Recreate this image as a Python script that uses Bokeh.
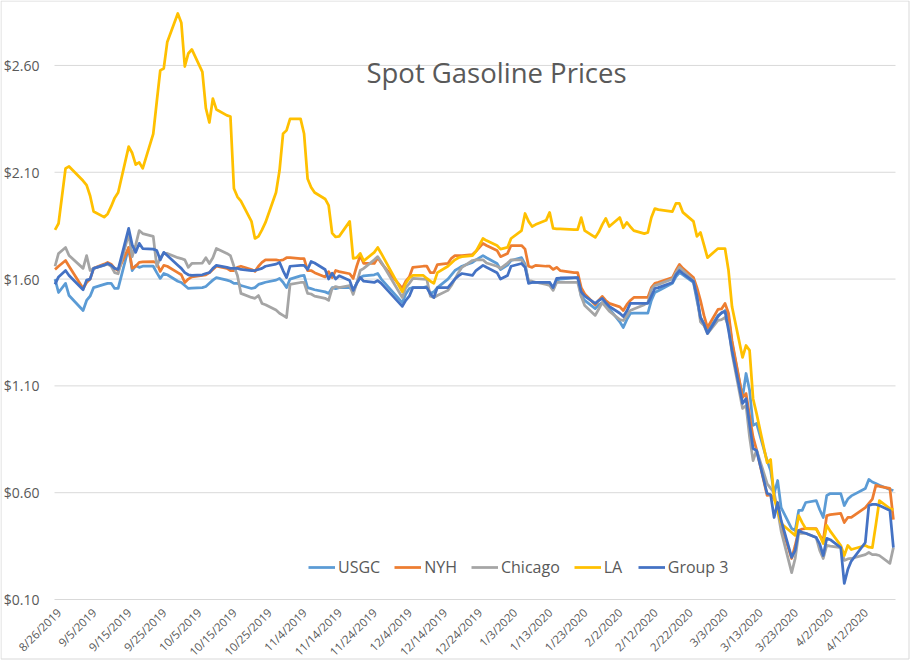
import math
import pandas as pd
from bokeh.plotting import figure
from bokeh.models import Legend, LegendItem, Label, Range1d, ColumnDataSource
from bokeh.core.properties import value
from bokeh.embed import file_html
from bokeh.resources import INLINE

TITLE = "Spot Gasoline Prices"
START = "2019-08-26"

# trading days shown on the chart
DAYS_BY_MONTH = {
    "2019-08": [26, 27, 29, 30],
    "2019-09": [3, 4, 5, 6, 9, 10, 11, 12, 13, 16, 17, 18, 19, 20, 23, 24, 25, 26, 27, 30],
    "2019-10": [1, 2, 3, 4, 7, 8, 9, 10, 11, 14, 15, 16, 17, 18, 21, 22, 23, 24, 25, 28, 29, 30, 31],
    "2019-11": [1, 4, 5, 6, 7, 8, 11, 12, 13, 14, 15, 18, 19, 20, 21, 22, 25, 26, 27],
    "2019-12": [3, 4, 5, 6, 9, 10, 11, 12, 13, 16, 17, 18, 19, 20, 23, 24, 26, 27, 30, 31],
    "2020-01": [2, 3, 6, 7, 8, 9, 10, 13, 14, 15, 16, 17, 21, 22, 23, 24, 27, 28, 29, 30, 31],
    "2020-02": [3, 4, 5, 6, 7, 10, 11, 12, 13, 14, 18, 19, 20, 21, 24, 25, 26, 27, 28],
    "2020-03": [2, 3, 4, 5, 6, 9, 10, 11, 12, 13, 16, 17, 18, 19, 20, 23, 24, 25, 26, 27, 30, 31],
    "2020-04": [1, 2, 3, 6, 7, 8, 9, 13, 14, 15, 16, 17, 20, 21],
}

USGC = [
    1.60, 1.537, 1.58, 1.523,
    1.453, 1.50, 1.52, 1.56,
    1.575, 1.58, 1.58, 1.556, 1.556,
    1.748, 1.64, 1.663, 1.655, 1.66,
    1.66, 1.63, 1.603, 1.626, 1.62,
    1.59, 1.584, 1.57, 1.556, 1.558,
    1.56, 1.565, 1.58, 1.595, 1.607,
    1.595, 1.59, 1.58, 1.58, 1.57,
    1.556, 1.56, 1.575, 1.58, 1.585,
    1.595, 1.603, 1.585, 1.56, 1.60,
    1.615, 1.617, 1.56, 1.555, 1.55,
    1.54, 1.533, 1.56, 1.555, 1.56,
    1.56, 1.547, 1.58, 1.607, 1.615,
    1.62, 1.626, 1.60,
    1.49, 1.53, 1.556, 1.56,
    1.56, 1.565, 1.533, 1.54, 1.56,
    1.60, 1.62, 1.64, 1.65, 1.66,
    1.678, 1.69, 1.71, 1.70,
    1.673, 1.645, 1.665, 1.687,
    1.70, 1.67, 1.584, 1.584, 1.584,
    1.584, 1.584, 1.556, 1.593, 1.60,
    1.605, 1.607, 1.52, 1.50,
    1.462, 1.48, 1.49, 1.475, 1.462,
    1.40, 1.373, 1.41, 1.439, 1.44,
    1.44, 1.44, 1.50, 1.537, 1.545,
    1.58, 1.61, 1.63, 1.62,
    1.584, 1.50, 1.42, 1.39, 1.355,
    1.43, 1.44, 1.453, 1.42, 1.30,
    1.046, 1.158, 1.08, 0.915, 0.924,
    0.75, 0.704, 0.596, 0.657, 0.53,
    0.432, 0.423, 0.517, 0.517, 0.554,
    0.563, 0.52, 0.484, 0.587, 0.596,
    0.596, 0.54, 0.57, 0.585,
    0.62, 0.662, 0.65, 0.643, 0.635,
    0.615, 0.61,
]

NYH = [
    1.645, 1.66, 1.687, 1.66,
    1.556, 1.584, 1.60, 1.65,
    1.67, 1.678, 1.67, 1.65, 1.64,
    1.748, 1.65, 1.66, 1.678, 1.68,
    1.682, 1.675, 1.636, 1.664, 1.66,
    1.63, 1.62, 1.584, 1.60, 1.61,
    1.617, 1.62, 1.63, 1.645, 1.66,
    1.65, 1.64, 1.64, 1.655, 1.66,
    1.645, 1.636, 1.66, 1.678, 1.69,
    1.69, 1.687, 1.69, 1.70, 1.70,
    1.696, 1.696, 1.64, 1.64, 1.63,
    1.61, 1.635, 1.607, 1.64, 1.635,
    1.625, 1.603, 1.66, 1.71, 1.673,
    1.673, 1.70, 1.675,
    1.556, 1.59, 1.61, 1.655,
    1.66, 1.66, 1.63, 1.63, 1.668,
    1.673, 1.697, 1.71, 1.71, 1.71,
    1.715, 1.73, 1.767, 1.757,
    1.734, 1.705, 1.72, 1.757,
    1.757, 1.74, 1.66, 1.655, 1.664,
    1.66, 1.66, 1.645, 1.655, 1.64,
    1.63, 1.63, 1.56, 1.53,
    1.48, 1.50, 1.519, 1.50, 1.486,
    1.47, 1.453, 1.48, 1.50, 1.514,
    1.514, 1.514, 1.56, 1.58, 1.585,
    1.607, 1.64, 1.668, 1.65,
    1.607, 1.56, 1.50, 1.43, 1.373,
    1.458, 1.46, 1.486, 1.44, 1.31,
    1.046, 1.064, 0.96, 0.86, 0.80,
    0.587, 0.59, 0.57, 0.55, 0.45,
    0.292, 0.353, 0.423, 0.43, 0.432,
    0.432, 0.40, 0.376, 0.493, 0.497,
    0.503, 0.46, 0.484, 0.484,
    0.53, 0.55, 0.57, 0.634, 0.63,
    0.62, 0.474,
]

CHICAGO = [
    1.66, 1.72, 1.748, 1.71,
    1.65, 1.71, 1.64, 1.65,
    1.665, 1.67, 1.66, 1.63, 1.625,
    1.813, 1.705, 1.76, 1.827, 1.813,
    1.80, 1.66, 1.70, 1.72, 1.72,
    1.70, 1.696, 1.69, 1.655, 1.673,
    1.675, 1.70, 1.673, 1.70, 1.743,
    1.72, 1.71, 1.66, 1.617, 1.533,
    1.514, 1.51, 1.523, 1.486, 1.48,
    1.455, 1.44, 1.43, 1.42, 1.575,
    1.584, 1.584, 1.533, 1.53, 1.52,
    1.51, 1.50, 1.556, 1.565, 1.56,
    1.57, 1.528, 1.58, 1.64, 1.65,
    1.69, 1.705, 1.68,
    1.514, 1.56, 1.58, 1.603,
    1.60, 1.598, 1.52, 1.514, 1.523,
    1.547, 1.57, 1.60, 1.63, 1.655,
    1.687, 1.69, 1.69, 1.675,
    1.66, 1.65, 1.675, 1.69,
    1.69, 1.66, 1.593, 1.59, 1.585,
    1.575, 1.57, 1.547, 1.584, 1.584,
    1.584, 1.584, 1.52, 1.476,
    1.43, 1.46, 1.49, 1.47, 1.45,
    1.41, 1.406, 1.43, 1.453, 1.46,
    1.48, 1.49, 1.55, 1.57, 1.575,
    1.60, 1.63, 1.655, 1.64,
    1.593, 1.52, 1.40, 1.383, 1.345,
    1.406, 1.41, 1.42, 1.38, 1.252,
    0.994, 1.008, 0.86, 0.75, 0.80,
    0.643, 0.62, 0.60, 0.517, 0.42,
    0.226, 0.292, 0.41, 0.41, 0.41,
    0.39, 0.33, 0.292, 0.353, 0.35,
    0.343, 0.283, 0.29, 0.292,
    0.31, 0.32, 0.31, 0.31, 0.306,
    0.269, 0.343,
]

LA = [
    1.83, 1.86, 2.118, 2.127,
    2.06, 2.04, 1.99, 1.916,
    1.89, 1.905, 1.94, 1.98, 2.005,
    2.22, 2.19, 2.136, 2.146, 2.118,
    2.28, 2.43, 2.577, 2.586, 2.71,
    2.843, 2.80, 2.595, 2.656, 2.675,
    2.57, 2.40, 2.333, 2.445, 2.394,
    2.366, 2.361, 2.024, 1.985, 1.965,
    1.87, 1.79, 1.80, 1.83, 1.865,
    2.005, 2.108, 2.28, 2.296, 2.35,
    2.35, 2.28, 2.07, 2.03, 2.005,
    1.975, 1.945, 1.815, 1.797, 1.80,
    1.87, 1.697, 1.70, 1.72, 1.685,
    1.725, 1.748, 1.72,
    1.54, 1.58, 1.605, 1.617,
    1.617, 1.603, 1.59, 1.58, 1.63,
    1.66, 1.675, 1.69, 1.70, 1.705,
    1.71, 1.73, 1.79, 1.78,
    1.757, 1.74, 1.748, 1.79,
    1.827, 1.907, 1.87, 1.846, 1.855,
    1.875, 1.912, 1.837, 1.835, 1.835,
    1.832, 1.832, 1.888, 1.827,
    1.795, 1.82, 1.855, 1.884, 1.846,
    1.888, 1.84, 1.865, 1.845, 1.827,
    1.813, 1.818, 1.888, 1.93, 1.925,
    1.916, 1.954, 1.954, 1.912,
    1.87, 1.80, 1.818, 1.76, 1.70,
    1.743, 1.743, 1.743, 1.64, 1.47,
    1.233, 1.289, 1.266, 1.04, 0.97,
    0.74, 0.755, 0.573, 0.517, 0.456,
    0.414, 0.40, 0.493, 0.46, 0.432,
    0.43, 0.40, 0.362, 0.447, 0.42,
    0.353, 0.306, 0.353, 0.334,
    0.353, 0.345, 0.343, 0.45, 0.563,
    0.526, 0.52,
]

GROUP3 = [
    1.575, 1.61, 1.64, 1.617,
    1.55, 1.595, 1.60, 1.65,
    1.665, 1.673, 1.665, 1.65, 1.645,
    1.837, 1.76, 1.725, 1.767, 1.743,
    1.74, 1.734, 1.69, 1.725, 1.71,
    1.665, 1.65, 1.63, 1.62, 1.617,
    1.62, 1.626, 1.63, 1.65, 1.664,
    1.655, 1.65, 1.65, 1.65, 1.645,
    1.64, 1.64, 1.645, 1.65, 1.66,
    1.67, 1.678, 1.64, 1.607, 1.66,
    1.664, 1.664, 1.645, 1.682, 1.675,
    1.645, 1.60, 1.628, 1.60, 1.615,
    1.593, 1.547, 1.58, 1.607, 1.59,
    1.584, 1.593, 1.58,
    1.472, 1.50, 1.52, 1.56,
    1.56, 1.56, 1.53, 1.514, 1.56,
    1.56, 1.58, 1.60, 1.615, 1.626,
    1.617, 1.64, 1.664, 1.655,
    1.63, 1.60, 1.617, 1.66,
    1.673, 1.655, 1.58, 1.584, 1.584,
    1.584, 1.584, 1.56, 1.603, 1.605,
    1.607, 1.607, 1.54, 1.52,
    1.486, 1.50, 1.509, 1.49, 1.472,
    1.44, 1.425, 1.45, 1.486, 1.486,
    1.486, 1.486, 1.52, 1.556, 1.56,
    1.584, 1.62, 1.64, 1.626,
    1.589, 1.52, 1.42, 1.39, 1.345,
    1.425, 1.443, 1.448, 1.36, 1.266,
    1.018, 1.04, 0.92, 0.807, 0.797,
    0.596, 0.59, 0.484, 0.554, 0.47,
    0.297, 0.33, 0.423, 0.415, 0.41,
    0.39, 0.36, 0.306, 0.386, 0.38,
    0.343, 0.175, 0.24, 0.28,
    0.367, 0.54, 0.545, 0.545, 0.54,
    0.517, 0.343,
]

SERIES = ["USGC", "NYH", "Chicago", "LA", "Group 3"]
COLORS = ["#5B9BD5", "#ED7D31", "#A5A5A5", "#FFC000", "#4472C4"]
TICK_LABELS = ["8/26/2019", "9/5/2019", "9/15/2019", "9/25/2019", "10/5/2019",
               "10/15/2019", "10/25/2019", "11/4/2019", "11/14/2019", "11/24/2019",
               "12/4/2019", "12/14/2019", "12/24/2019", "1/3/2020", "1/13/2020",
               "1/23/2020", "2/2/2020", "2/12/2020", "2/22/2020", "3/3/2020",
               "3/13/2020", "3/23/2020", "4/2/2020", "4/12/2020"]
Y_TICKS = [0.10, 0.60, 1.10, 1.60, 2.10, 2.60]

start = pd.Timestamp(START)
dates = [pd.Timestamp(f"{m}-{d:02d}") for m, days in DAYS_BY_MONTH.items() for d in days]
xday = [(dt - start).days for dt in dates]
values = [USGC, NYH, CHICAGO, LA, GROUP3]
for v in values:
    assert len(v) == len(xday), len(v)
tick_pos = [(pd.to_datetime(t, format="%m/%d/%Y") - start).days for t in TICK_LABELS]

# ---- layout (pixels) ----
W, H = 912, 662
PLOT_L, PLOT_R = 54, 895          # plot-area edges in canvas pixels
X0, X1 = -0.15, 239.6            # day range of the plot area
Y_BOTTOM, Y_TOP = 0.10, 2.904    # value range of the plot area
PLOT_B = 599                      # canvas pixel of Y_BOTTOM (Y_TOP sits at pixel 0)
ppd = (PLOT_R - PLOT_L) / (X1 - X0)
ppv = PLOT_B / (Y_TOP - Y_BOTTOM)

def xpx(px):   # canvas pixel -> day coordinate
    return X0 + (px - PLOT_L) / ppd

def ypx(py):   # canvas pixel -> value coordinate
    return Y_TOP - py / ppv

p = figure(width=W, height=H, output_backend="svg", toolbar_location=None,
           x_axis_type=None, y_axis_type=None,
           x_range=Range1d(xpx(0), xpx(W)), y_range=Range1d(ypx(H), ypx(0)),
           min_border_left=0, min_border_right=0, min_border_top=0, min_border_bottom=0)
p.background_fill_color = "white"
p.border_fill_color = "white"
p.outline_line_color = None

# chart-area border
p.quad(left=[xpx(0.5)], right=[xpx(908.5)], top=[ypx(0.5)], bottom=[ypx(658.5)],
       fill_color=None, line_color="#D9D9D9", line_width=1)

# horizontal gridlines
p.segment(x0=[X0] * len(Y_TICKS), x1=[X1] * len(Y_TICKS), y0=Y_TICKS, y1=Y_TICKS,
          line_color="#D9D9D9", line_width=1)

# value-axis labels
ysrc = ColumnDataSource(dict(x=[xpx(PLOT_L - 15)] * len(Y_TICKS), y=Y_TICKS,
                             text=[f"${v:.2f}" for v in Y_TICKS]))
p.text(x="x", y="y", text="text", source=ysrc, text_align="right", text_baseline="middle",
       text_font=value("Open Sans"), text_font_size=value("14px"), text_color="#595959")

# date-axis labels (rotated)
xsrc = ColumnDataSource(dict(x=tick_pos, y=[ypx(PLOT_B + 11)] * len(tick_pos), text=TICK_LABELS))
p.text(x="x", y="y", text="text", source=xsrc, angle=math.pi / 4, x_offset=4,
       text_align="right", text_baseline="middle",
       text_font=value("Open Sans"), text_font_size=value("11.5px"), text_color="#595959")

items = []
for name, color, vals in zip(SERIES, COLORS, values):
    src = ColumnDataSource(dict(x=xday, y=vals))
    r = p.line("x", "y", source=src, line_color=color, line_width=2.75, line_join="round")
    items.append(LegendItem(label=name, renderers=[r]))

legend = Legend(items=items, orientation="horizontal", location=(308, 84),
                background_fill_alpha=0, border_line_color=None,
                label_text_font="Open Sans", label_text_font_size="16px",
                label_text_color="#595959", glyph_width=27, glyph_height=16,
                label_height=16, label_standoff=3, spacing=14, padding=0, margin=0)
p.add_layout(legend)

p.add_layout(Label(x=xpx(496), y=ypx(72), text=TITLE, text_align="center", text_baseline="middle",
                   text_font="Open Sans", text_font_size="27.5px", text_color="#595959"))

open("out.html", "w").write(file_html(p, INLINE))
